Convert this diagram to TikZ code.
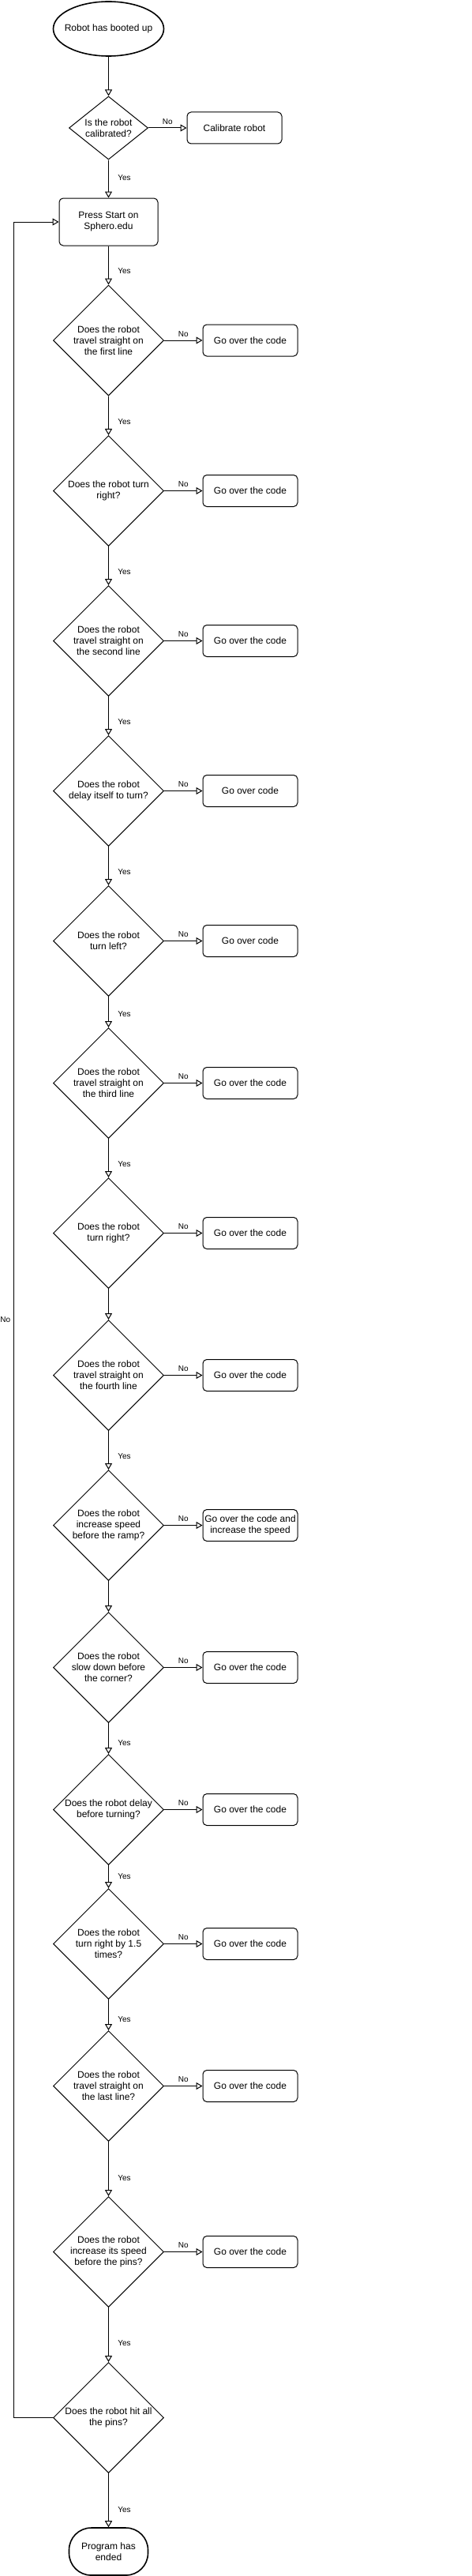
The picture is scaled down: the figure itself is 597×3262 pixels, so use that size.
\documentclass[tikz,border=0pt]{standalone}
\usepackage{fontspec}
\setmainfont{Liberation Sans}
\usetikzlibrary{shapes.geometric,arrows.meta}

\tikzset{
  flow/.style={-{Triangle[open,length=8pt,width=9pt]},line width=1pt},
  decision/.style={diamond,draw,line width=1pt,minimum width=140pt,minimum height=140pt,
    inner sep=-6pt,align=center,font=\fontsize{12}{14}\selectfont},
  task/.style={rectangle,draw,line width=1pt,rounded corners=5pt,minimum width=120pt,
    minimum height=40pt,inner sep=1pt,align=center,font=\fontsize{12}{14}\selectfont},
  terminal/.style={draw,line width=1.6pt,align=center,font=\fontsize{12}{14}\selectfont},
  yeslbl/.style={right,xshift=8pt,font=\fontsize{10}{12}\selectfont},
  nolbl/.style={above,midway,yshift=1pt,font=\fontsize{10}{12}\selectfont}
}

\begin{document}
\begin{tikzpicture}[x=1pt,y=-1pt]

\useasboundingbox (0,0) rectangle (597,3262);

% Debut
\node[terminal,ellipse,minimum width=140pt,minimum height=69pt,inner xsep=-20pt,inner ysep=0pt]
(boot)
at (137.5,36.5)
{Robot has booted up};

\node[decision,minimum width=100pt,minimum height=80pt]
(calib)
at (137.5,162)
{Is the robot\\calibrated?};

\node[task]
(fixcalib)
at (297,162)
{Calibrate robot};

\node[task,minimum width=125pt,minimum height=60pt]
(start)
at (137.5,281)
{Press Start on\\Sphero.edu};

% Questions
\node[decision]
(line1)
at (137.5,431)
{Does the robot\\travel straight on\\the first line};

\node[decision]
(right1)
at (137.5,621.5)
{Does the robot turn\\right?};

\node[decision]
(line2)
at (137.5,811.5)
{Does the robot\\travel straight on\\the second line};

\node[decision]
(delay1)
at (137.5,1001.5)
{Does the robot\\delay itself to turn?};

\node[decision]
(left1)
at (137.5,1191.5)
{Does the robot\\turn left?};

\node[decision]
(line3)
at (137.5,1371.5)
{Does the robot\\travel straight on\\the third line};

\node[decision]
(right2)
at (137.5,1561.5)
{Does the robot\\turn right?};

\node[decision]
(line4)
at (137.5,1741.5)
{Does the robot\\travel straight on\\the fourth line};

\node[decision]
(ramp)
at (137.5,1931.5)
{Does the robot\\increase speed\\before the ramp?};

\node[decision]
(slow)
at (137.5,2111.5)
{Does the robot\\slow down before\\the corner?};

\node[decision]
(delay2)
at (137.5,2291.5)
{Does the robot delay\\before turning?};

\node[decision]
(right3)
at (137.5,2461.5)
{Does the robot\\turn right by 1.5\\times?};

\node[decision]
(line5)
at (137.5,2641.5)
{Does the robot\\travel straight on\\the last line?};

\node[decision]
(pins1)
at (137.5,2851.5)
{Does the robot\\increase its speed\\before the pins?};

\node[decision]
(hit)
at (137.5,3061.5)
{Does the robot hit all\\the pins?};

% Fin
\node[terminal,rectangle,rounded corners=28pt,minimum width=100pt,minimum height=60pt]
(done)
at (137.5,3231)
{Program has\\ended};

% Corrections
\node[task] (fix1) at (317,431) {Go over the code};
\node[task] (fix2) at (317,621.5) {Go over the code};
\node[task] (fix3) at (317,811.5) {Go over the code};
\node[task] (fix4) at (317,1001.5) {Go over code};
\node[task] (fix5) at (317,1191.5) {Go over code};
\node[task] (fix6) at (317,1371.5) {Go over the code};
\node[task] (fix7) at (317,1561.5) {Go over the code};
\node[task] (fix8) at (317,1741.5) {Go over the code};
\node[task] (fix9) at (317,1931.5) {Go over the code and\\increase the speed};
\node[task] (fix10) at (317,2111.5) {Go over the code};
\node[task] (fix11) at (317,2291.5) {Go over the code};
\node[task] (fix12) at (317,2461.5) {Go over the code};
\node[task] (fix13) at (317,2641.5) {Go over the code};
\node[task] (fix14) at (317,2851.5) {Go over the code};

% Fleches Yes
\draw[flow] (boot) -- (calib);
\draw[flow] (calib) -- node[yeslbl,pos=0.48]{Yes} (start);
\draw[flow] (start) -- node[yeslbl,pos=0.65]{Yes} (line1);
\draw[flow] (line1) -- node[yeslbl,pos=0.65]{Yes} (right1);
\draw[flow] (right1) -- node[yeslbl,pos=0.65]{Yes} (line2);
\draw[flow] (line2) -- node[yeslbl,pos=0.65]{Yes} (delay1);
\draw[flow] (delay1) -- node[yeslbl,pos=0.65]{Yes} (left1);
\draw[flow] (left1) -- node[yeslbl,pos=0.56]{Yes} (line3);
\draw[flow] (line3) -- node[yeslbl,pos=0.65]{Yes} (right2);
\draw[flow] (right2) -- (line4);
\draw[flow] (line4) -- node[yeslbl,pos=0.65]{Yes} (ramp);
\draw[flow] (ramp) -- (slow);
\draw[flow] (slow) -- node[yeslbl,pos=0.65]{Yes} (delay2);
\draw[flow] (delay2) -- node[yeslbl,pos=0.48]{Yes} (right3);
\draw[flow] (right3) -- node[yeslbl,pos=0.65]{Yes} (line5);
\draw[flow] (line5) -- node[yeslbl,pos=0.67]{Yes} (pins1);
\draw[flow] (pins1) -- node[yeslbl,pos=0.66]{Yes} (hit);
\draw[flow] (hit) -- node[yeslbl,pos=0.67]{Yes} (done);

% Fleches No
\draw[flow] (calib) -- node[nolbl]{No} (fixcalib);
\draw[flow] (line1) -- node[nolbl]{No} (fix1);
\draw[flow] (right1) -- node[nolbl]{No} (fix2);
\draw[flow] (line2) -- node[nolbl]{No} (fix3);
\draw[flow] (delay1) -- node[nolbl]{No} (fix4);
\draw[flow] (left1) -- node[nolbl]{No} (fix5);
\draw[flow] (line3) -- node[nolbl]{No} (fix6);
\draw[flow] (right2) -- node[nolbl]{No} (fix7);
\draw[flow] (line4) -- node[nolbl]{No} (fix8);
\draw[flow] (ramp) -- node[nolbl]{No} (fix9);
\draw[flow] (slow) -- node[nolbl]{No} (fix10);
\draw[flow] (delay2) -- node[nolbl]{No} (fix11);
\draw[flow] (right3) -- node[nolbl]{No} (fix12);
\draw[flow] (line5) -- node[nolbl]{No} (fix13);
\draw[flow] (pins1) -- node[nolbl]{No} (fix14);

% Retour
\coordinate (loopa) at (17,3061.5);
\coordinate (loopb) at (17,281);
\draw[flow] (hit.west) -- (loopa) -- node[left,pos=0.5,font=\fontsize{10}{12}\selectfont]{No} (loopb) -- (start.west);

\end{tikzpicture}
\end{document}
